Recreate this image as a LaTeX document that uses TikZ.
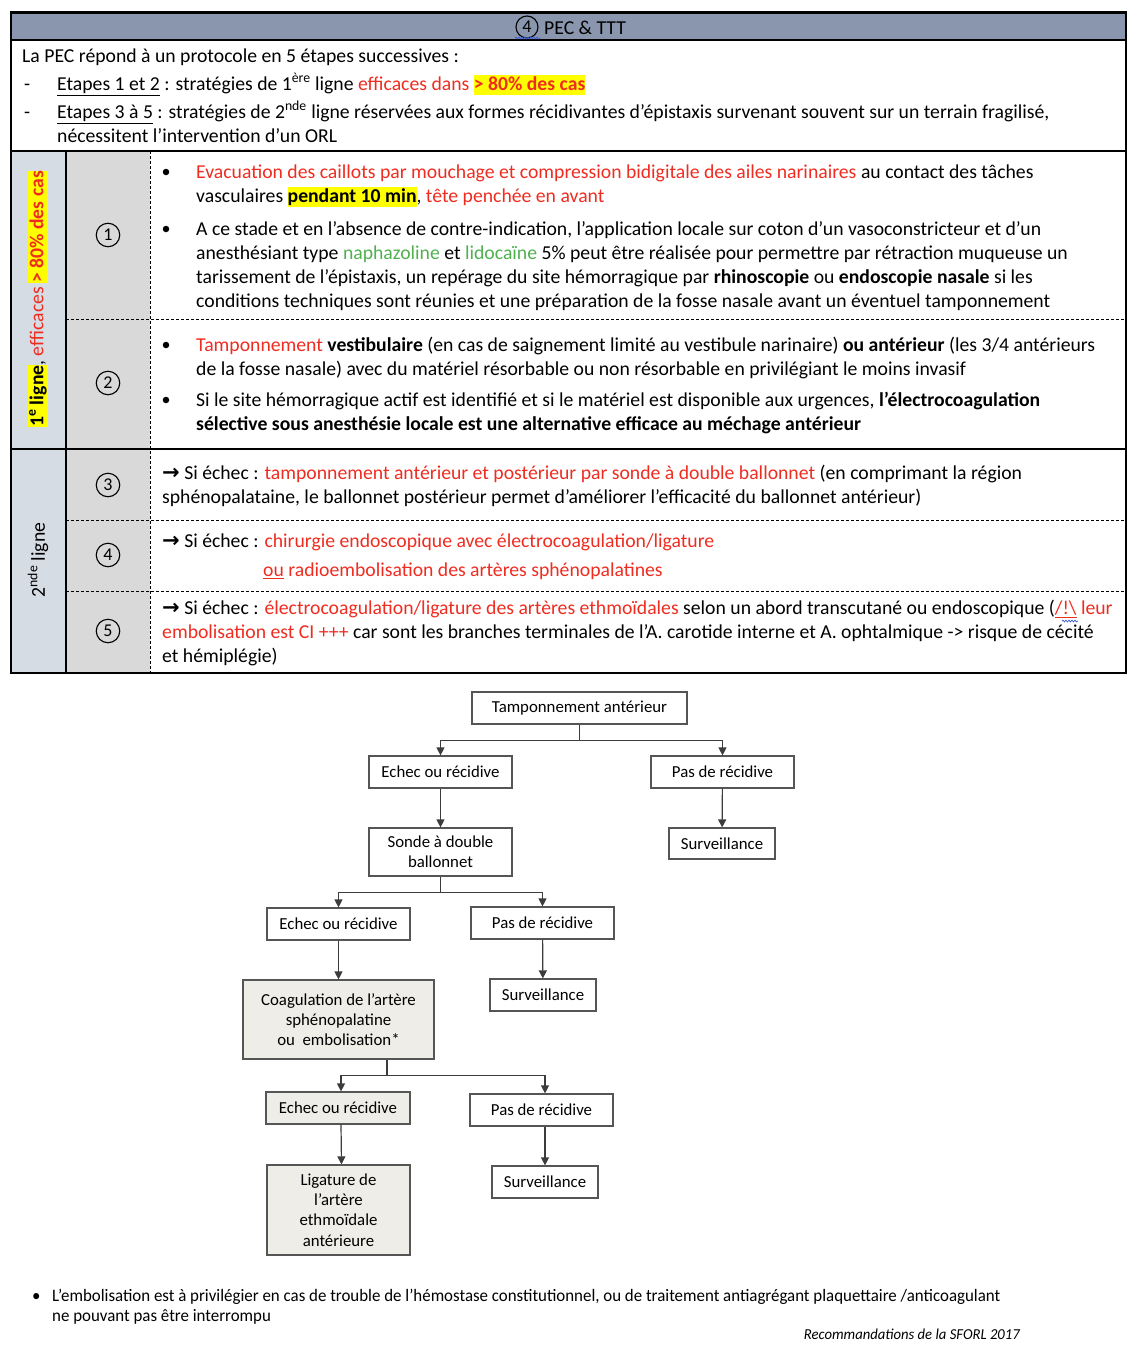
\documentclass[tikz,border=0pt]{standalone}
\usepackage{fontspec}
\setmainfont{Carlito}
\newfontfamily\symfont{DejaVu Sans}
\newfontfamily\condfont[FakeStretch=0.965]{Carlito}
\usetikzlibrary{arrows.meta,decorations.pathmorphing}
\definecolor{myred}{RGB}{238,44,32}
\definecolor{mygreen}{RGB}{80,176,80}
\definecolor{hly}{RGB}{255,255,0}
\definecolor{band}{RGB}{137,150,174}
\definecolor{colA}{RGB}{214,220,228}
\definecolor{colB}{RGB}{217,217,217}
\definecolor{boxgray}{RGB}{238,237,231}
\definecolor{boxline}{RGB}{85,85,85}
\definecolor{tline}{RGB}{60,60,60}
\newcommand{\hlt}[1]{{\setlength{\fboxsep}{0pt}\colorbox{hly}{\rule[-0.25em]{0pt}{1.05em}#1}}}
\newcommand{\rd}[1]{\textcolor{myred}{#1}}
\newcommand{\gr}[1]{\textcolor{mygreen}{#1}}
\newcommand{\arr}{{\symfont\bfseries\fontsize{21}{21}\selectfont →}}
\newcommand{\pb}[1]{\parbox[t]{1100pt}{\raggedright #1}}
\tikzset{
  txt/.style={anchor=base west, inner sep=0pt, font=\fontsize{19.7}{24}\selectfont},
  cnum/.style={circle, draw, line width=1.1pt, minimum size=23.5pt, inner sep=0pt, font=\fontsize{18}{18}\selectfont},
  bul/.style={circle, fill=black, minimum size=6.5pt, inner sep=0pt},
  fbox/.style={draw=boxline, line width=1.2pt, fill=white, align=center, inner sep=0pt, font=\fontsize{16.8}{20.3}\selectfont},
  gbox/.style={fbox, fill=boxgray},
  conn/.style={draw=tline, line width=1.2pt},
  arr/.style={conn, -{Triangle[length=8pt,width=8pt]}},
  tdash/.style={line width=0.9pt, dash pattern=on 3pt off 2pt},
  squig/.style={draw={rgb,255:red,60;green,90;blue,220}, line width=0.7pt, decorate, decoration={snake, amplitude=0.9pt, segment length=3pt}}
}
\begin{document}
\begin{tikzpicture}[x=1pt,y=-1pt]
\useasboundingbox (0,0) rectangle (1138,1360);
% ---------- table background ----------
\fill[band] (11,13) rectangle (1126,40);
\fill[colA] (11,151) rectangle (66,673);
\fill[colB] (66,151) rectangle (150,673);
\draw[line width=3pt] (10,12) -- (1127,12);
\draw[line width=1.2pt] (11,12) -- (11,673) -- (1126,673) -- (1126,12);
\draw[line width=1.2pt] (11,40) -- (1126,40);
\draw[line width=1.2pt] (11,151) -- (1126,151);
\draw[line width=1.2pt] (11,449) -- (1126,449);
\draw[line width=1.2pt] (66,151) -- (66,673);
\draw[tdash] (150,151) -- (150,673);
\draw[tdash] (66,319) -- (1126,319);
\draw[tdash] (66,520) -- (1126,520);
\draw[tdash] (66,591) -- (1126,591);
% ---------- header ----------
\node[cnum, minimum size=22pt] (h0) at (527,27) {4};
\node[txt] (h1) at (544,34) {PEC \& TTT};
\draw[squig] (515,38) -- (540,38);
% ---------- intro ----------
\node[txt] (i1) at (22,62.5) {La PEC répond à un protocole en 5 étapes successives :};
\node[txt] (d1) at (24,90.5) {-};
\node[txt] (i2) at (57,90.5) {\underline{Etapes 1 et 2} : stratégies de 1\textsuperscript{ère} ligne \rd{efficaces dans} \hlt{\rd{\textbf{> 80\% des cas}}}};
\node[txt] (d2) at (24,118.5) {-};
\node[txt] (i3) at (57,118.5) {\pb{\underline{Etapes 3 à 5} : stratégies de 2\textsuperscript{nde} ligne réservées aux formes récidivantes d’épistaxis survenant souvent sur un terrain fragilisé,\\ nécessitent l’intervention d’un ORL}};
% ---------- first line column ----------
\node[txt, anchor=center, rotate=90] (v1) at (38,299) {\hlt{\textbf{1\textsuperscript{e} ligne}}, \rd{efficaces} \hlt{\rd{\textbf{> 80\% des cas}}}};
\node[txt, anchor=center, rotate=90] (v2) at (38,560) {2\textsuperscript{nde} ligne};
% ---------- circled numbers ----------
\node[cnum] (n1) at (108,235) {1};
\node[cnum] (n2) at (108,383) {2};
\node[cnum] (n3) at (108,485) {3};
\node[cnum] (n4) at (108,555) {4};
\node[cnum] (n5) at (108,631) {5};
% ---------- row 1 ----------
\node[bul] (b1) at (166,172) {};
\node[txt] (r1a) at (196,178.5) {\pb{\rd{Evacuation des caillots par mouchage et compression bidigitale des ailes narinaires} au contact des tâches\\ vasculaires \hlt{\textbf{pendant 10 min}}, \rd{tête penchée en avant}}};
\node[bul] (b2) at (166,229) {};
\node[txt] (r1b) at (196,235.5) {\pb{A ce stade et en l’absence de contre-indication, l’application locale sur coton d’un vasoconstricteur et d’un\\ anesthésiant type \gr{naphazoline} et \gr{lidocaïne} 5\% peut être réalisée pour permettre par rétraction muqueuse un\\ tarissement de l’épistaxis, un repérage du site hémorragique par \textbf{rhinoscopie} ou \textbf{endoscopie nasale} si les\\ conditions techniques sont réunies et une préparation de la fosse nasale avant un éventuel tamponnement}};
% ---------- row 2 ----------
\node[bul] (b3) at (166,345) {};
\node[txt] (r2a) at (196,351.5) {\pb{\rd{Tamponnement} \textbf{vestibulaire} (en cas de saignement limité au vestibule narinaire) \textbf{ou antérieur} (les 3/4 antérieurs\\ de la fosse nasale) avec du matériel résorbable ou non résorbable en privilégiant le moins invasif}};
\node[bul] (b4) at (166,400) {};
\node[txt] (r2b) at (196,406.5) {\pb{Si le site hémorragique actif est identifié et si le matériel est disponible aux urgences, \textbf{l’électrocoagulation}\\ \textbf{sélective sous anesthésie locale est une alternative efficace au méchage antérieur}}};
% ---------- row 3 ----------
\node[txt] (r3) at (162,479.5) {\pb{\arr{} Si échec : \rd{tamponnement antérieur et postérieur par sonde à double ballonnet} (en comprimant la région\\ sphénopalataine, le ballonnet postérieur permet d’améliorer l’efficacité du ballonnet antérieur)}};
% ---------- row 4 ----------
\node[txt] (r4a) at (162,547.5) {\arr{} Si échec : \rd{chirurgie endoscopique avec électrocoagulation/ligature}};
\node[txt] (r4b) at (263,576.5) {\rd{\underline{ou} radioembolisation des artères sphénopalatines}};
% ---------- row 5 ----------
\node[txt] (r5) at (162,614.5) {\pb{\arr{} Si échec : \rd{électrocoagulation/ligature des artères ethmoïdales} selon un abord transcutané ou endoscopique (\rd{\underline{/!\textbackslash}} \rd{leur}\\ \rd{embolisation est CI +++} car sont les branches terminales de l’A. carotide interne et A. ophtalmique -> risque de cécité\\ et hémiplégie)}};
\draw[squig] (1062,621) -- (1078,621);
% ---------- flowchart ----------
\node[fbox, minimum width=215pt, minimum height=32pt] (t0) at (579.5,708) {Tamponnement antérieur};
\node[fbox, minimum width=143pt, minimum height=32pt] (e1) at (440.5,772) {Echec ou récidive};
\node[fbox, minimum width=143pt, minimum height=32pt] (p1) at (722.5,772) {Pas de récidive};
\node[fbox, minimum width=143pt, minimum height=48pt] (s1) at (440.5,852) {Sonde à double\\ ballonnet};
\node[fbox, minimum width=106pt, minimum height=31pt] (u1) at (722,843.5) {Surveillance};
\node[fbox, minimum width=143pt, minimum height=32pt] (e2) at (338.5,924) {Echec ou récidive};
\node[fbox, minimum width=143pt, minimum height=32pt] (p2) at (542.5,923) {Pas de récidive};
\node[fbox, minimum width=106pt, minimum height=32pt] (u2) at (543,995) {Surveillance};
\node[gbox, minimum width=191pt, minimum height=79pt] (c3) at (338.5,1019.5) {Coagulation de l’artère\\ sphénopalatine\\ ou~~embolisation*};
\node[gbox, minimum width=144pt, minimum height=32pt] (e3) at (338,1108) {Echec ou récidive};
\node[fbox, minimum width=143pt, minimum height=32pt] (p3) at (541.5,1110) {Pas de récidive};
\node[gbox, minimum width=143pt, minimum height=90pt] (l3) at (338.5,1210) {Ligature de\\ l’artère\\ ethmoïdale\\ antérieure};
\node[fbox, minimum width=106pt, minimum height=32pt] (u3) at (545,1182) {Surveillance};
% connectors
\draw[conn] (t0.south) -- ++(0,16) coordinate (j0);
\draw[arr] (j0) -| (e1.north);
\draw[arr] (j0) -| (p1.north);
\draw[arr] (e1) -- (s1);
\draw[arr] (p1) -- (u1);
\draw[conn] (s1.south) -- ++(0,16) coordinate (j1);
\draw[arr] (j1) -| (e2.north);
\draw[arr] (j1) -| (p2.north);
\draw[arr] (e2) -- (c3);
\draw[arr] (p2) -- (u2);
\coordinate (c3j) at ([xshift=48.5pt]c3.south);
\draw[conn] (c3j) -- ++(0,16) coordinate (j2);
\draw[arr] (j2) -| ([xshift=3pt]e3.north);
\draw[arr] (j2) -| (p3.north -| u3.north);
\draw[arr] ([xshift=3pt]e3.south) -- ([xshift=3pt]l3.north);
\draw[arr] (p3.south -| u3.north) -- (u3.north);
% ---------- footnote ----------
\node[anchor=base west, inner sep=0pt, font=\condfont\fontsize{17.5}{20}\selectfont] (fb) at (32,1301) {•};
\node[anchor=base west, inner sep=0pt, font=\condfont\fontsize{17.5}{20}\selectfont] (fn) at (52,1301) {\parbox[t]{1050pt}{\raggedright L’embolisation est à privilégier en cas de trouble de l’hémostase constitutionnel, ou de traitement antiagrégant plaquettaire /anticoagulant\\ ne pouvant pas être interrompu}};
\node[anchor=base east, inner sep=0pt, font=\condfont\itshape\fontsize{15.2}{18}\selectfont] (src) at (1020,1339.5) {Recommandations de la SFORL 2017};
\end{tikzpicture}
\end{document}
